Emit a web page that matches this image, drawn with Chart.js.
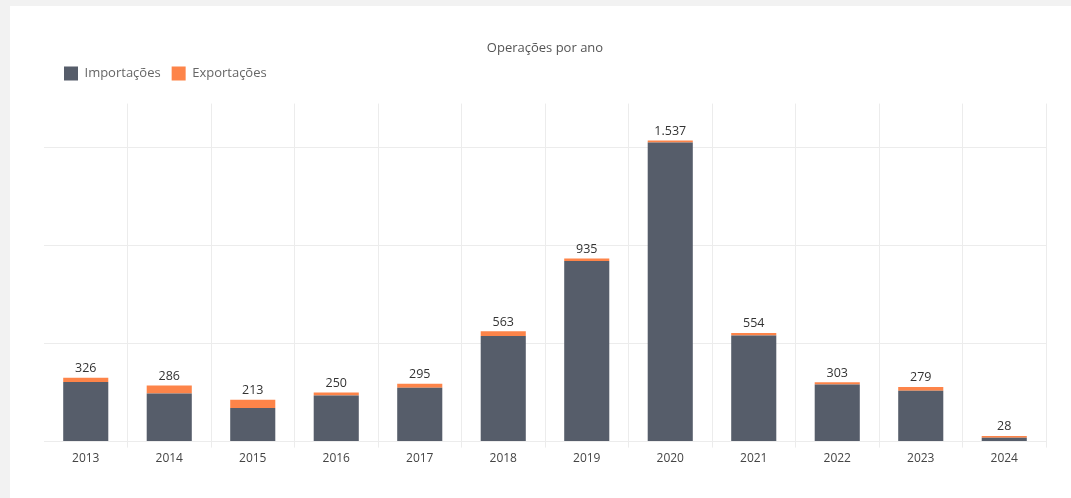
<!DOCTYPE html>
<html>
<head>
<meta charset="utf-8">
<script src="https://cdn.jsdelivr.net/npm/chart.js@4"></script>
<style>
  html, body { margin: 0; padding: 0; background: #f2f2f2; }
  #card { position: absolute; left: 10px; top: 6px; width: 1061px; height: 492px; background: #fff; }
</style>
</head>
<body>
<div id="card"><canvas id="chart" width="1061" height="492"></canvas></div>
<script>
const years = ["2013", "2014", "2015", "2016", "2017", "2018", "2019", "2020", "2021", "2022", "2023", "2024"];
const importacoes = [304, 246, 172, 235, 275, 539, 922, 1527, 541, 291, 259, 20];
const exportacoes = [22, 40, 41, 15, 20, 24, 13, 10, 13, 12, 20, 8];
const yGridValues = [0, 500, 1000, 1500];

const FONT = "'Open Sans', 'Noto Sans', sans-serif";
const GRID = "#ececec";
const fmt = new Intl.NumberFormat("pt-BR");

// totals written above every stacked bar
const totalsPlugin = {
  id: "totals",
  afterDatasetsDraw(chart) {
    const ctx = chart.ctx;
    const top = chart.getDatasetMeta(chart.data.datasets.length - 1);
    ctx.save();
    ctx.font = "12.5px " + FONT;
    ctx.fillStyle = "#333";
    ctx.textAlign = "center";
    ctx.textBaseline = "bottom";
    top.data.forEach((bar, i) => {
      const total = importacoes[i] + exportacoes[i];
      ctx.fillText(fmt.format(total), bar.x, bar.y - 3);
    });
    ctx.restore();
  }
};

// legend a bit right of the plot edge, with extra room below it
const legendTweak = {
  id: "legendTweak",
  beforeInit(chart) {
    const fit = chart.legend.fit;
    chart.legend.fit = function () {
      fit.call(this);
      this.height += 13;
    };
  },
  afterLayout(chart) {
    chart.legend.left += 9;
  }
};

new Chart(document.getElementById("chart"), {
  type: "bar",
  plugins: [totalsPlugin, legendTweak],
  data: {
    labels: years,
    datasets: [
      { label: "Importações", data: importacoes, backgroundColor: "#565d6a" },
      { label: "Exportações", data: exportacoes, backgroundColor: "#fd8449" }
    ]
  },
  options: {
    responsive: false,
    animation: false,
    layout: { padding: { left: 34, right: 25, top: 24, bottom: 28 } },
    datasets: { bar: { categoryPercentage: 0.54, barPercentage: 1 } },
    plugins: {
      tooltip: { enabled: false },
      title: {
        display: true,
        text: "Operações por ano",
        color: "#555",
        font: { family: FONT, size: 13, weight: "normal" },
        padding: { top: 10, bottom: 0 }
      },
      legend: {
        position: "top",
        align: "start",
        labels: {
          boxWidth: 14,
          boxHeight: 14,
          padding: 11,
          color: "#666",
          font: { family: FONT, size: 13 }
        }
      }
    },
    scales: {
      x: {
        stacked: true,
        border: { display: false },
        grid: {
          color: (c) => (c.index === 0 || c.index === years.length) ? "transparent" : GRID,
          tickLength: 6
        },
        ticks: { color: "#444", font: { family: FONT, size: 12 }, padding: 4 }
      },
      y: {
        stacked: true,
        min: 0,
        max: 1725,
        border: { display: false },
        grid: { drawTicks: false, color: GRID },
        ticks: { display: false },
        afterBuildTicks(scale) {
          scale.ticks = yGridValues.map((v) => ({ value: v }));
        }
      }
    }
  }
});
</script>
</body>
</html>
